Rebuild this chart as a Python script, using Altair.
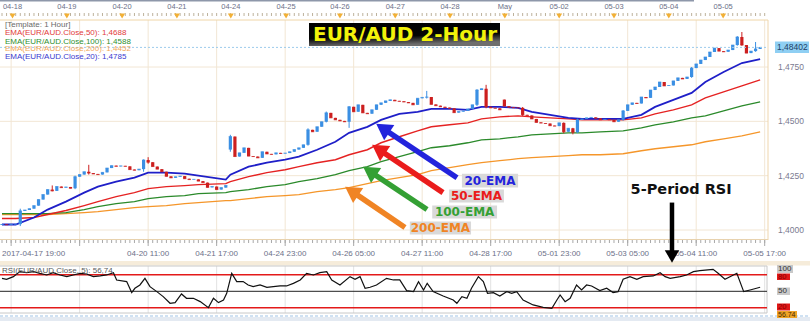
import altair as alt
import pandas as pd

# ---------------- data ----------------
closes = [
    1.4025, 1.4024, 1.4026, 1.4027, 1.4088, 1.4092, 1.4098, 1.4112, 1.4140, 1.4163,
    1.4186, 1.4180, 1.4200, 1.4195, 1.4198, 1.4192, 1.4245, 1.4255, 1.4268, 1.4262,
    1.4258, 1.4255, 1.4265, 1.4285, 1.4296, 1.4293, 1.4295, 1.4293, 1.4278, 1.4275,
    1.4280, 1.4322, 1.4312, 1.4292, 1.4280, 1.4268, 1.4247, 1.4240, 1.4245, 1.4248,
    1.4236, 1.4232, 1.4233, 1.4225, 1.4218, 1.4196, 1.4200, 1.4186, 1.4195, 1.4205,
    1.4430, 1.4338, 1.4355, 1.4378, 1.4340, 1.4338, 1.4332, 1.4360, 1.4350, 1.4348,
    1.4355, 1.4352, 1.4354, 1.4360, 1.4370, 1.4378, 1.4392, 1.4461, 1.4452, 1.4475,
    1.4498, 1.4539, 1.4516, 1.4507, 1.4502, 1.4498, 1.4567, 1.4544, 1.4576, 1.4539,
    1.4535, 1.4553, 1.4576, 1.4585, 1.4594, 1.4599, 1.4594, 1.4592, 1.4589, 1.4585,
    1.4576, 1.4606, 1.4610, 1.4612, 1.4578, 1.4572, 1.4567, 1.4563, 1.4560, 1.4540,
    1.4545, 1.4548, 1.4557, 1.4576, 1.4644, 1.4650, 1.4567, 1.4562, 1.4560, 1.4553,
    1.4570, 1.4565, 1.4563, 1.4562, 1.4530, 1.4527, 1.4511, 1.4495, 1.4492, 1.4490,
    1.4480, 1.4478, 1.4493, 1.4452, 1.4468, 1.4450, 1.4507, 1.4511, 1.4516, 1.4518,
    1.4514, 1.4507, 1.4509, 1.4507, 1.4498, 1.4507, 1.4548, 1.4576, 1.4585, 1.4582,
    1.4612, 1.4608, 1.4644, 1.4658, 1.4681, 1.4663, 1.4665, 1.4686, 1.4700, 1.4695,
    1.4704, 1.4745, 1.4764, 1.4782, 1.4796, 1.4819, 1.4837, 1.4823, 1.4820, 1.4828,
    1.4851, 1.4888, 1.4851, 1.4814, 1.4823, 1.4833, 1.4840]
open_fix_idx = [0, 50, 110]
open_fix_val = [1.4023, 1.4370, 1.4600]
wick_idx = [4, 11, 16, 19, 31, 32, 50, 67, 71, 76, 93, 104, 106, 114, 123, 125, 126, 136, 151, 161, 162, 165]
wick_low = [1.4018, 1.4178, 1.4188, 1.4255, 1.4268, 1.4305, 1.4360, 1.4388, 1.4495, 1.4470, 1.4605,
            1.4570, 1.4560, 1.4525, 1.4445, 1.4440, 1.4446, 1.4503, 1.4700, 1.4848, 1.4848, 1.4820]
wick_high = [1.4098, 1.4205, 1.4250, 1.4300, 1.4325, 1.4335, 1.4438, 1.4468, 1.4545, 1.4570, 1.4640,
             1.4648, 1.4668, 1.4566, 1.4495, 1.4470, 1.4512, 1.4552, 1.4750, 1.4892, 1.4911, 1.4865]

ema_idx = [0, 3, 7, 10, 14, 18, 21, 25, 29, 32, 36, 40, 43, 49, 50, 54, 58, 62, 65, 69, 73, 76, 80,
           83, 87, 91, 94, 98, 102, 105, 109, 113, 116, 120, 124, 127, 131, 136, 140, 143, 147, 151,
           154, 158, 162, 166]
ema20 = [1.40253, 1.40253, 1.40574, 1.40940, 1.41308, 1.41720, 1.41996, 1.42225, 1.42408, 1.42638,
         1.42638, 1.42592, 1.42500, 1.42317, 1.42546, 1.42913, 1.43096, 1.43234, 1.43372, 1.43693,
         1.44060, 1.44473, 1.44748, 1.45069, 1.45344, 1.45436, 1.45573, 1.45573, 1.45528, 1.45665,
         1.45665, 1.45619, 1.45436, 1.45298, 1.45161, 1.45115, 1.45115, 1.45115, 1.45298, 1.45665,
         1.45986, 1.46307, 1.46812, 1.47271, 1.47683, 1.47867]
ema50 = [1.40528, 1.40528, 1.40574, 1.40711, 1.40895, 1.41124, 1.41308, 1.41537, 1.41720, 1.41904,
         1.41996, 1.42041, 1.42087, 1.42133, 1.42225, 1.42454, 1.42638, 1.42775, 1.42913, 1.43096,
         1.43234, 1.43463, 1.43693, 1.44014, 1.44289, 1.44564, 1.44748, 1.44840, 1.44931, 1.45115,
         1.45206, 1.45252, 1.45206, 1.45161, 1.45115, 1.45069, 1.45069, 1.45069, 1.45161, 1.45344,
         1.45528, 1.45757, 1.46078, 1.46353, 1.46628, 1.46904]
ema100 = [1.40757, 1.40757, 1.40757, 1.40757, 1.40803, 1.40940, 1.41078, 1.41216, 1.41308, 1.41445,
          1.41537, 1.41583, 1.41675, 1.41720, 1.41766, 1.41858, 1.41996, 1.42087, 1.42225, 1.42363,
          1.42546, 1.42730, 1.42913, 1.43142, 1.43372, 1.43601, 1.43785, 1.43876, 1.44014, 1.44151,
          1.44197, 1.44289, 1.44381, 1.44427, 1.44473, 1.44473, 1.44518, 1.44564, 1.44702, 1.44840,
          1.44977, 1.45161, 1.45252, 1.45482, 1.45711, 1.45895]
ema200 = [1.40711, 1.40711, 1.40711, 1.40711, 1.40757, 1.40803, 1.40849, 1.40940, 1.41032, 1.41078,
          1.41124, 1.41216, 1.41262, 1.41353, 1.41353, 1.41445, 1.41537, 1.41583, 1.41629, 1.41766,
          1.41858, 1.41950, 1.42133, 1.42271, 1.42408, 1.42546, 1.42730, 1.42867, 1.43005, 1.43096,
          1.43188, 1.43280, 1.43326, 1.43372, 1.43418, 1.43463, 1.43463, 1.43509, 1.43647, 1.43739,
          1.43830, 1.43922, 1.44060, 1.44197, 1.44335, 1.44518]

rsi_x = [0, 1.0, 2.5, 3.9, 5.4, 6.9, 8.3, 9.8, 11.2, 12.7, 14.2, 15.6, 17.1, 18.5, 20.0, 21.5, 22.9,
         24.4, 25.1, 27.3, 28.4, 29.1, 30.2, 31.3, 32.4, 33.9, 35.3, 36.8, 37.9, 39.3, 40.4, 41.9,
         43.4, 45.2, 46.3, 47.4, 48.5, 49.2, 50.3, 51.4, 52.8, 53.9, 55.0, 56.5, 58.0, 59.4, 60.9,
         62.3, 63.8, 65.3, 66.7, 68.2, 69.6, 71.1, 72.2, 74.0, 76.2, 77.3, 78.4, 79.5, 80.6, 82.0,
         84.2, 85.7, 87.1, 88.6, 90.1, 91.2, 92.3, 93.1, 94.4, 96.6, 98.8, 99.6, 100.7, 101.8, 102.8,
         104.3, 105.4, 106.3, 107.6, 109.0, 110.5, 111.6, 112.7, 114.1, 116.3, 118.5, 120.4, 121.5,
         122.2, 123.3, 124.4, 125.8, 126.9, 128.0, 129.1, 130.9, 132.4, 133.8, 134.9, 136.0, 137.5,
         139.0, 140.4, 142.6, 144.1, 145.2, 146.3, 148.5, 149.9, 151.4, 152.8, 155.7, 156.8, 158.3,
         160.9, 162.4, 163.8, 166.0]
rsi_v = [73.6, 71.8, 76.7, 85.8, 83.9, 85.8, 82.7, 79.7, 83.9, 79.7, 76.7, 79.7, 82.7, 81.5, 76.7,
         77.9, 79.7, 83.9, 70.6, 67.6, 47.6, 55.5, 61.5, 73.6, 58.5, 49.4, 40.3, 28.2, 29.4, 45.2,
         37.3, 37.3, 31.2, 20.3, 37.3, 29.4, 34.2, 46.4, 82.7, 67.6, 67.6, 61.5, 58.5, 61.5, 57.3,
         58.5, 59.7, 59.7, 64.5, 70.6, 82.7, 79.7, 83.9, 85.8, 70.6, 61.5, 76.7, 71.8, 76.7, 55.5,
         57.3, 61.5, 73.6, 70.6, 70.6, 51.2, 49.4, 67.6, 52.4, 64.5, 49.4, 41.5, 34.2, 28.2, 40.3,
         37.3, 55.5, 76.7, 67.6, 46.4, 47.6, 41.5, 49.4, 46.4, 49.4, 34.2, 25.2, 20.9, 19.1, 34.2,
         43.3, 31.2, 37.3, 61.5, 52.4, 61.5, 59.7, 51.2, 55.5, 47.6, 49.4, 71.8, 76.7, 71.8, 76.7,
         77.9, 83.9, 76.7, 73.6, 76.7, 79.7, 85.8, 87.6, 90.0, 82.7, 71.8, 82.7, 49.4, 52.4, 57.3]

price_ticks = [1.4000, 1.4250, 1.4500, 1.4750]
price_labels = ["1,4000", "1,4250", "1,4500", "1,4750"]
last_price = 1.48402
day_pos = [2.3, 14.2, 26.3, 38.3, 50.1, 62.2, 74.0, 86.1, 98.1, 110.1, 122.0, 134.0, 146.0, 157.9]
day_labels = ["04-18", "04-19", "04-20", "04-21", "04-24", "04-25", "04-26", "04-27", "04-28",
              "May", "05-02", "05-03", "05-04", "05-05"]
time_pos = [32, 47, 62, 77, 92, 107, 122, 137, 152, 167]
time_labels = ["04-20 11:00", "04-21 17:00", "04-24 23:00", "04-26 05:00", "04-27 11:00",
               "04-28 17:00", "05-01 23:00", "05-03 05:00", "05-04 11:00", "05-05 17:00"]
first_time_label = "2017-04-17 19:00"
grid_pos = [2, 17, 32, 47, 62, 77, 92, 107, 122, 137, 152, 167]
rsi_levels = [80, 20]

template_text = "[Template: 1 Hour]"
legend_texts = ["EMA(EUR/AUD.Close,50): 1,4688", "EMA(EUR/AUD.Close,100): 1,4588",
                "EMA(EUR/AUD.Close,200): 1,4452", "EMA(EUR/AUD.Close,20): 1,4785"]
legend_colors = ["#e23b3b", "#2f8f2f", "#f2a85a", "#3a3ad0"]
legend_rows = [33.4, 41.7, 49.4, 57.4]

# EMA annotation arrows: tail (bar, price) -> head (bar, price)
arrow_names = ["20-EMA", "50-EMA", "100-EMA", "200-EMA"]
arrow_colors = ["#2323dc", "#ea1c1c", "#34a034", "#f08424"]
arrow_tail_x = [99.63, 96.56, 93.06, 88.24]
arrow_tail_p = [1.42408, 1.41720, 1.40941, 1.40115]
arrow_head_x = [83.36, 82.46, 80.49, 76.55]
arrow_head_p = [1.44684, 1.43716, 1.42707, 1.41789]
label_x = [106.85, 103.9, 101.3, 96.0]
label_p = [1.42271, 1.41560, 1.40826, 1.40092]
box_x1 = [100.7, 97.9, 94.2, 89.3]
box_x2 = [113.0, 109.9, 108.4, 102.7]
box_p1 = [1.42592, 1.41858, 1.41124, 1.40390]
box_p2 = [1.41950, 1.41262, 1.40528, 1.39794]

# ---------------- tables ----------------
rows = []
for i, c in enumerate(closes):
    o = closes[i - 1] if i > 0 else c
    if i in open_fix_idx:
        o = open_fix_val[open_fix_idx.index(i)]
    hi, lo = max(o, c), min(o, c)
    if i in wick_idx:
        k = wick_idx.index(i)
        hi, lo = wick_high[k], wick_low[k]
    rows.append({"i": i, "o": o, "c": c, "hi": hi, "lo": lo, "dir": "up" if c >= o else "down"})
cdf = pd.DataFrame(rows)
edf = pd.DataFrame({"i": ema_idx, "e20": ema20, "e50": ema50, "e100": ema100, "e200": ema200})
rdf = pd.DataFrame({"x": rsi_x, "v": rsi_v})
bars = pd.DataFrame({"i": list(range(len(closes) + 1))})
one = pd.DataFrame({"k": [0]})

XS = alt.Scale(domain=[0, 167], range=[2, 764.7], nice=False, zero=False)
PS = alt.Scale(domain=[1.40, 1.475], range=[230, 67], nice=False, zero=False)
RS = alt.Scale(domain=[0, 100], range=[318.8, 263.8], nice=False, zero=False)
SCREEN = alt.Scale(domain=[0, 321], range=[0, 321], nice=False, zero=False)


def X(f):
    return alt.X(f, type="quantitative", scale=XS, axis=None)


def P(f):
    return alt.Y(f, type="quantitative", scale=PS, axis=None)


def R(f):
    return alt.Y(f, type="quantitative", scale=RS, axis=None)


def ptext(txt, x, y, **kw):
    return alt.Chart(pd.DataFrame({"t": [txt]})).mark_text(**kw).encode(
        x=alt.value(x), y=alt.value(y), text="t:N")


def prect(x1, x2, y1, y2, **kw):
    return alt.Chart(one).mark_rect(**kw).encode(x=alt.value(x1), x2=alt.value(x2),
                                                 y=alt.value(y1), y2=alt.value(y2))


def prule(x1, x2, y1, y2, **kw):
    return alt.Chart(one).mark_rule(**kw).encode(x=alt.value(x1), x2=alt.value(x2),
                                                 y=alt.value(y1), y2=alt.value(y2))


FONT = "Liberation Sans"
LAB = "#6c7088"
L = []

# backgrounds / frames
L.append(prect(0, 810, 317, 321, color="#e4eaf2"))
L.append(prect(0, 810, 261, 265.5, color="#f6ecda"))
L.append(prule(0, 694, 0.75, 0.75, color="#8e97aa", strokeWidth=1.5))

# grids
L.append(alt.Chart(pd.DataFrame({"p": price_ticks})).mark_rule(color="#f2e6d4").encode(
    y=P("p"), x=alt.value(0), x2=alt.value(768)))
L.append(alt.Chart(pd.DataFrame({"g": grid_pos})).mark_rule(color="#f2e6d4").encode(
    x=X("g"), y=alt.value(20), y2=alt.value(239)))
L.append(alt.Chart(pd.DataFrame({"g": grid_pos})).mark_rule(color="#e2e2e2").encode(
    x=X("g"), y=alt.value(266), y2=alt.value(313)))

# borders
L.append(prule(0, 768, 20, 20, color="#f0d6a8"))
L.append(prule(0, 768, 239.5, 239.5, color="#e8d2ae"))
L.append(prule(768, 768, 20, 240, color="#efd6ad"))
L.append(prule(0, 767, 266, 266, color="#c8c8c8"))
L.append(prule(0, 767, 313, 313, color="#c8c8c8"))
L.append(prule(767, 767, 266, 313, color="#c8c8c8"))
L.append(prule(0, 810, 316, 316, color="#9fc3e6", strokeDash=[3, 2]))

# top axis
L.append(alt.Chart(bars).mark_rule(color="#bdb29c").encode(x=X("i"), y=alt.value(13), y2=alt.value(16)))
dd = pd.DataFrame({"d": day_pos, "t": day_labels})
L.append(alt.Chart(dd).mark_point(shape="triangle-down", filled=True, size=36, color="#f2b035",
                                   opacity=1).encode(x=X("d"), y=alt.value(16)))
L.append(alt.Chart(dd).mark_text(font=FONT, fontSize=7.5, color=LAB).encode(
    x=X("d"), y=alt.value(6.5), text="t:N"))

# bottom axis
L.append(alt.Chart(bars).mark_rule(color="#a8a8a8").encode(x=X("i"), y=alt.value(240), y2=alt.value(243)))
L.append(alt.Chart(pd.DataFrame({"g": grid_pos})).mark_rule(color="#a8a8a8").encode(
    x=X("g"), y=alt.value(240), y2=alt.value(246)))
tdf = pd.DataFrame({"x": time_pos, "t": time_labels})
L.append(alt.Chart(tdf).mark_text(font=FONT, fontSize=8, color=LAB).encode(
    x=X("x"), y=alt.value(254), text="t:N"))
L.append(alt.Chart(pd.DataFrame({"x": [0], "t": [first_time_label]})).mark_text(
    font=FONT, fontSize=8, color=LAB, align="left").encode(x=X("x"), y=alt.value(254), text="t:N"))

# right price labels
L.append(alt.Chart(pd.DataFrame({"p": price_ticks, "t": price_labels})).mark_text(
    font=FONT, fontSize=8.5, color="#7a7a90", align="left").encode(
    y=P("p"), x=alt.value(778), text="t:N"))

# EMA lines
for col, colr, w in [("e200", "#f5962a", 1.3), ("e100", "#2b8a2b", 1.3),
                     ("e50", "#e52222", 1.4), ("e20", "#1f1fc8", 1.8)]:
    L.append(alt.Chart(edf).mark_line(color=colr, strokeWidth=w).encode(x=X("i"), y=P(col)))

# candles
ccol = alt.Color("dir:N", scale=alt.Scale(domain=["up", "down"], range=["#3b8fe3", "#cc1f1f"]),
                 legend=None)
L.append(alt.Chart(cdf).mark_rule(strokeWidth=1).encode(x=X("i"), y=P("lo"), y2="hi", color=ccol))
L.append(alt.Chart(cdf).mark_rule(strokeWidth=3.2, strokeCap="butt").encode(
    x=X("i"), y=P("o"), y2="c", color=ccol))
L.append(alt.Chart(cdf).mark_tick(orient="horizontal", size=3.2, thickness=1).encode(
    x=X("i"), y=P("c"), color=ccol))

# last price line and box
lp = pd.DataFrame({"p": [last_price], "t": ["1,48402"]})
L.append(alt.Chart(lp).mark_rule(color="#9ccbec", strokeDash=[2, 2]).encode(
    y=P("p"), x=alt.value(0), x2=alt.value(768)))
L.append(prect(775, 809, 41.5, 53, color="#8fcff3"))
L.append(alt.Chart(lp).mark_text(font=FONT, fontSize=8.5, color="#1f3f66", align="left").encode(
    y=P("p"), x=alt.value(777), text="t:N"))

# RSI panel
L.append(alt.Chart(pd.DataFrame({"lv": rsi_levels})).mark_rule(color="#e31a1a", strokeWidth=1.5).encode(
    y=R("lv"), x=alt.value(0), x2=alt.value(767)))
L.append(alt.Chart(pd.DataFrame({"lv": [50]})).mark_rule(color="#222222", strokeWidth=1).encode(
    y=R("lv"), x=alt.value(0), x2=alt.value(767)))
L.append(alt.Chart(rdf).mark_line(color="#111111", strokeWidth=1.2).encode(x=X("x"), y=R("v")))
L.append(ptext("RSI(EUR/AUD.Close, 5): 56,74", 2, 271, font=FONT, fontSize=8, color="#5a5a5a",
               align="left", baseline="middle"))
L.append(prect(777, 793, 265, 273, color="#c9c9c9"))
L.append(ptext("100", 778, 269.2, font=FONT, fontSize=8, color="#333333", align="left", baseline="middle"))
L.append(prect(777, 790, 273.5, 280, color="#e01818"))
L.append(ptext("80", 778, 277, font=FONT, fontSize=7.5, color="#8a0000", align="left", baseline="middle"))
L.append(prect(777, 790, 287.5, 295, color="#c9c9c9"))
L.append(ptext("50", 778, 291.3, font=FONT, fontSize=8, color="#333333", align="left", baseline="middle"))
L.append(prect(777, 790, 303.5, 310.5, color="#e01818"))
L.append(ptext("20", 778, 307, font=FONT, fontSize=7.5, color="#8a0000", align="left", baseline="middle"))
L.append(prect(777, 797, 311, 318, color="#f0a427"))
L.append(ptext("56.74", 778, 314.6, font=FONT, fontSize=7, color="#4a2a00", align="left", baseline="middle"))

# legend text (template row is drawn with a compensating offset)
L.append(ptext(template_text, 5, 66, dy=-41, font=FONT, fontSize=8, color="#6a6a6a", align="left",
               baseline="middle"))
ldf = pd.DataFrame({"t": legend_texts, "c": legend_colors, "row": legend_rows})
L.append(alt.Chart(ldf).mark_text(font=FONT, fontSize=8, align="left", baseline="middle").encode(
    x=alt.value(5), y=alt.Y("row:Q", scale=SCREEN, axis=None), text="t:N",
    color=alt.Color("c:N", scale=None, legend=None)))

# title box
grad = alt.Gradient(gradient="linear",
                    stops=[alt.GradientStop(color="#000000", offset=0),
                           alt.GradientStop(color="#050505", offset=0.65),
                           alt.GradientStop(color="#6e6e6e", offset=1)],
                    x1=0, y1=0, x2=0.25, y2=1)
L.append(prect(309, 500, 23, 46, color=grad))
L.append(ptext("EUR/AUD 2-Hour", 405, 35, font="DejaVu Sans", fontSize=20, fontWeight="bold",
               color="#f2f20a", baseline="middle"))

# EMA arrows + labels
adf = pd.DataFrame({"n": arrow_names, "c": arrow_colors, "tx": arrow_tail_x, "tp": arrow_tail_p,
                    "hx": arrow_head_x, "hp": arrow_head_p, "lx": label_x, "lp": label_p,
                    "bx1": box_x1, "bx2": box_x2, "bp1": box_p1, "bp2": box_p2})
acol = alt.Color("c:N", scale=None, legend=None)
L.append(alt.Chart(adf).mark_rule(strokeWidth=5.5).encode(
    x=X("tx"), x2="hx", y=P("tp"), y2="hp", color=acol))
L.append(alt.Chart(adf).mark_point(shape="triangle-up", filled=True, size=330, angle=304, opacity=1).encode(
    x=X("hx"), y=P("hp"), color=acol))
L.append(alt.Chart(adf).mark_rect(color="#d9d9d9").encode(x=X("bx1"), x2="bx2", y=P("bp1"), y2="bp2"))
L.append(alt.Chart(adf).mark_text(font="DejaVu Sans", fontSize=12, fontWeight="bold").encode(
    x=X("lx"), y=P("lp"), text="n:N", color=acol))

# RSI annotation
L.append(alt.Chart(pd.DataFrame({"x": [148.7], "p": [1.41858], "t": ["5-Period RSI"]})).mark_text(
    font="DejaVu Sans", fontSize=14.5, fontWeight="bold", color="#111111").encode(
    x=X("x"), y=P("p"), text="t:N"))
L.append(alt.Chart(pd.DataFrame({"x": [146.7], "p1": [1.41262], "p2": [1.38785]})).mark_rule(
    strokeWidth=4.5, color="#000000").encode(x=X("x"), y=P("p1"), y2="p2"))
L.append(alt.Chart(pd.DataFrame({"x": [146.7], "p": [1.38785]})).mark_point(
    shape="triangle-down", filled=True, size=210, color="#000000", opacity=1).encode(x=X("x"), y=P("p")))

chart = alt.layer(*L).properties(
    width=810, height=321, padding=0, background="white",
    autosize=alt.AutoSizeParams(type="none")
).resolve_scale(y="independent").configure_view(stroke=None)

chart.save("out.html", embed_options={"renderer": "svg", "actions": False})
